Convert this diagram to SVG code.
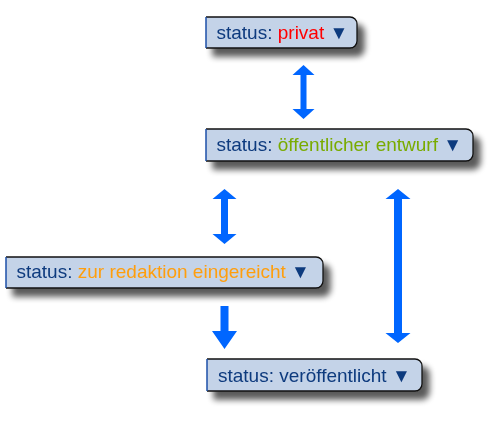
<svg xmlns="http://www.w3.org/2000/svg" width="500" height="428" viewBox="0 0 500 428">
<defs>
<filter id="sh" x="-10%" y="-30%" width="130%" height="190%">
<feGaussianBlur in="SourceAlpha" stdDeviation="3"/>
<feOffset dx="7" dy="8" result="b"/>
<feComponentTransfer><feFuncA type="linear" slope="0.65"/></feComponentTransfer>
<feMerge><feMergeNode/><feMergeNode in="SourceGraphic"/></feMerge>
</filter>
<style>
.bg{fill:#c4d3e8}
.bd{fill:none;stroke:#111;stroke-width:1.3}
.lb{stroke:#1c4fa8;stroke-width:1.5}
.t{font-family:"Liberation Sans",Arial,sans-serif;font-size:19px;fill:#0e3a7e}
.red{fill:#ff0000}
.grn{fill:#79ab00}
.org{fill:#ff9e0d}
.arr{fill:#0066ff}
</style>
</defs>
<rect width="500" height="428" fill="#fff"/>
<g id="connectors">
<polygon class="arr" points="303.5,65 314.5,75 306.5,75 306.5,109 314.5,109 303.5,119 292.5,109 300.5,109 300.5,75 292.5,75"/>
<polygon class="arr" points="224.5,189 236.5,199 228,199 228,234 236.5,234 224.5,244 212.5,234 221,234 221,199 212.5,199"/>
<polygon class="arr" points="398,189 410.5,199 402,199 402,333 410.5,333 398,343 385.5,333 394,333 394,199 385.5,199"/>
<polygon class="arr" points="228.5,306 228.5,331 237,331 224.5,349 212,331 220.5,331 220.5,306"/>
</g>
<g id="node-privat" filter="url(#sh)">
<path class="bg" d="M206,17 H350 A7,7 0 0 1 357,24 V41 A7,7 0 0 1 350,48 H206 Z"/>
<path class="bd" d="M206,17 H350 A7,7 0 0 1 357,24 V41 A7,7 0 0 1 350,48 H206"/>
<line class="lb" x1="206" y1="17" x2="206" y2="48"/>
<text class="t" x="216.5" y="38.5">status: <tspan class="red">privat</tspan> ▼</text>
</g>
<g id="node-entwurf" filter="url(#sh)">
<path class="bg" d="M206,129 H466 A7,7 0 0 1 473,136 V154 A7,7 0 0 1 466,161 H206 Z"/>
<path class="bd" d="M206,129 H466 A7,7 0 0 1 473,136 V154 A7,7 0 0 1 466,161 H206"/>
<line class="lb" x1="206" y1="129" x2="206" y2="161"/>
<text class="t" x="216.5" y="150.7">status: <tspan class="grn">öffentlicher entwurf</tspan> ▼</text>
</g>
<g id="node-redaktion" filter="url(#sh)">
<path class="bg" d="M6,257 H316 A7,7 0 0 1 323,264 V281 A7,7 0 0 1 316,288 H6 Z"/>
<path class="bd" d="M6,257 H316 A7,7 0 0 1 323,264 V281 A7,7 0 0 1 316,288 H6"/>
<line class="lb" x1="6" y1="257" x2="6" y2="288"/>
<text class="t" x="16.5" y="278.3">status: <tspan class="org">zur redaktion eingereicht</tspan> ▼</text>
</g>
<g id="node-veroeffentlicht" filter="url(#sh)">
<path class="bg" d="M207,359 H415 A7,7 0 0 1 422,366 V384 A7,7 0 0 1 415,391 H207 Z"/>
<path class="bd" d="M207,359 H415 A7,7 0 0 1 422,366 V384 A7,7 0 0 1 415,391 H207"/>
<line class="lb" x1="207" y1="359" x2="207" y2="391"/>
<text class="t" x="218" y="381.7">status: veröffentlicht ▼</text>
</g>
</svg>
